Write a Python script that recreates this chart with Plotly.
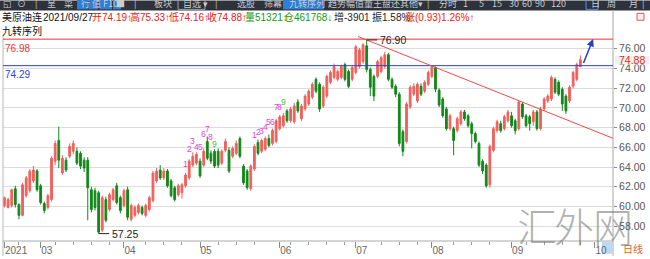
import plotly.graph_objects as go

# ---------------- data ----------------
opens = [60.1, 59.9, 60.1, 61.8, 60.2, 59.1, 61.1, 61.6, 62.6, 63.6,
         62.1, 60.3, 59.9, 60.7, 64.6, 66.7, 63.4, 64.7, 65.1, 65.6,
         65.6, 65.4, 64.7, 64.7, 61.7, 61.6, 61.4, 57.6, 60.7, 59.7,
         60.7, 62.1, 60.9, 60.1, 61.7, 58.7, 59.1, 59.4, 59.9, 59.1,
         59.7, 60.6, 62.6, 63.7, 62.9, 63.6, 62.6, 61.9, 61.2, 61.4,
         62.1, 62.9, 64.2, 64.4, 64.6, 64.2, 66.6, 65.4, 65.6, 65.6,
         64.4, 65.7, 65.7, 65.1, 65.4, 66.9, 64.1, 63.6, 61.8, 63.8,
         66.5, 65.6, 65.8, 66.9, 66.4, 66.6, 67.9, 68.2, 69.7, 68.7,
         68.6, 70.6, 68.9, 69.9, 70.4, 71.1, 72.9, 72.4, 70.2, 71.2,
         72.6, 73.1, 72.9, 73.1, 74.4, 73.7, 72.9, 73.6, 74.2, 74.7,
         76.3, 73.9, 73.2, 73.2, 73.7, 74.2, 75.4, 72.9, 72.2, 71.4,
         67.6, 66.6, 70.1, 71.4, 70.7, 72.2, 71.7, 72.4, 73.2, 74.1,
         71.8, 70.9, 69.9, 67.9, 67.9, 67.7, 68.4, 69.6, 69.2, 68.4,
         67.4, 66.4, 64.6, 64.2, 62.2, 65.7, 67.7, 68.4, 67.9, 68.7,
         69.2, 68.7, 67.9, 70.4, 69.2, 69.1, 68.6, 69.6, 67.9, 69.9,
         70.7, 70.9, 72.9, 72.6, 71.9, 71.2, 70.7, 72.2, 72.9, 74.19]
highs = [61.0, 60.9, 61.8, 62.1, 60.3, 62.4, 63.1, 63.8, 64.1, 63.8,
         62.3, 60.5, 61.3, 65.1, 66.7, 68.1, 65.2, 65.0, 66.4, 66.7,
         66.0, 65.6, 65.0, 65.0, 62.0, 61.9, 61.6, 61.1, 61.0, 61.4,
         61.9, 62.4, 61.1, 61.8, 62.0, 60.3, 60.1, 60.3, 60.1, 60.3,
         61.1, 63.6, 63.9, 64.2, 63.9, 63.8, 62.8, 62.1, 62.3, 62.4,
         63.4, 64.8, 65.5, 65.5, 64.9, 65.9, 67.1, 65.7, 65.8, 65.9,
         65.8, 66.9, 66.0, 66.1, 66.7, 67.1, 64.3, 63.8, 64.3, 66.3,
         66.8, 66.9, 67.1, 67.3, 67.9, 68.9, 69.3, 69.5, 69.9, 70.1,
         70.5, 70.9, 70.4, 71.4, 71.9, 72.6, 73.1, 72.6, 72.3, 73.4,
         73.8, 74.5, 73.9, 74.4, 74.6, 73.9, 74.3, 76.4, 76.1, 76.6,
         76.9, 74.1, 73.4, 74.9, 75.3, 75.7, 75.6, 73.1, 72.4, 71.6,
         67.8, 70.6, 72.3, 72.5, 72.6, 72.5, 72.8, 73.8, 74.3, 74.2,
         72.0, 71.1, 70.1, 69.4, 68.1, 69.1, 69.8, 69.8, 69.4, 68.6,
         67.6, 66.6, 64.8, 64.4, 66.3, 68.1, 68.8, 68.7, 69.3, 69.8,
         69.6, 68.9, 70.7, 70.6, 69.4, 69.3, 69.8, 69.8, 70.1, 71.1,
         71.4, 73.3, 73.1, 72.8, 72.1, 71.4, 72.3, 73.8, 74.6, 75.33]
lows = [59.9, 59.8, 59.9, 59.9, 58.7, 59.0, 60.9, 61.4, 62.4, 61.5,
        60.2, 59.3, 59.7, 60.5, 64.2, 63.9, 63.2, 63.5, 64.9, 65.3,
        64.2, 63.8, 63.5, 58.6, 59.4, 59.6, 57.25, 57.4, 58.4, 59.5,
        60.5, 60.2, 59.3, 59.9, 58.6, 58.5, 58.9, 59.2, 59.1, 58.9,
        59.5, 60.4, 62.4, 62.7, 62.7, 61.9, 60.9, 60.5, 61.0, 60.8,
        61.9, 62.7, 64.0, 64.2, 62.9, 64.0, 64.7, 64.3, 63.9, 63.9,
        64.2, 65.5, 63.4, 64.9, 65.2, 64.9, 62.2, 61.7, 61.6, 63.6,
        65.2, 65.4, 65.6, 66.0, 66.2, 66.4, 67.7, 68.0, 68.5, 68.5,
        68.4, 69.5, 68.7, 69.7, 70.2, 70.9, 71.5, 69.6, 70.0, 71.0,
        72.4, 72.9, 72.7, 72.9, 72.7, 72.0, 72.7, 73.4, 74.0, 74.5,
        73.6, 71.2, 70.7, 73.0, 73.5, 74.0, 72.7, 71.9, 71.1, 66.1,
        65.1, 66.4, 69.9, 71.2, 70.5, 71.2, 71.5, 72.2, 73.0, 71.6,
        70.1, 69.0, 67.7, 67.7, 65.2, 67.5, 68.2, 68.7, 68.0, 65.9,
        66.4, 64.0, 63.3, 61.9, 61.9, 65.5, 67.5, 67.5, 67.7, 68.5,
        68.0, 67.3, 67.7, 68.9, 68.0, 67.7, 68.2, 67.7, 67.7, 69.7,
        70.5, 70.7, 71.4, 71.2, 69.7, 69.4, 70.5, 72.0, 72.7, 74.16]
closes = [60.9, 60.7, 61.7, 60.2, 59.1, 62.2, 62.9, 63.6, 63.7, 61.7,
          60.4, 59.6, 61.1, 64.9, 66.4, 64.7, 64.9, 63.7, 66.1, 66.4,
          64.4, 64.1, 63.9, 61.9, 59.7, 59.9, 57.4, 60.9, 58.6, 61.2,
          61.7, 60.4, 59.6, 61.6, 58.9, 60.1, 59.9, 60.1, 59.3, 60.1,
          60.9, 63.4, 63.6, 62.9, 63.6, 62.1, 61.1, 60.7, 62.1, 62.2,
          63.2, 64.6, 65.1, 65.3, 63.1, 65.6, 64.9, 64.6, 64.1, 64.2,
          65.6, 66.6, 63.6, 65.9, 66.4, 65.1, 62.4, 61.9, 64.1, 66.1,
          65.4, 66.7, 66.9, 66.2, 67.7, 68.7, 69.1, 69.2, 68.7, 69.9,
          70.2, 69.7, 70.2, 71.2, 71.7, 72.4, 71.7, 69.9, 72.1, 73.2,
          73.6, 74.2, 73.7, 74.2, 72.9, 72.2, 74.1, 76.2, 75.9, 76.4,
          73.9, 72.1, 71.2, 74.7, 75.1, 75.4, 72.9, 72.1, 71.4, 66.4,
          65.6, 70.4, 72.1, 72.2, 72.4, 71.4, 72.6, 73.6, 74.2, 71.9,
          70.3, 69.2, 67.9, 69.2, 66.7, 68.9, 69.6, 68.9, 68.2, 67.4,
          66.6, 64.2, 63.6, 62.1, 66.1, 67.9, 68.6, 67.7, 69.1, 69.6,
          68.2, 67.7, 70.6, 69.1, 68.2, 68.4, 69.6, 67.9, 69.9, 70.9,
          71.2, 73.1, 71.6, 71.4, 70.4, 69.7, 72.1, 73.6, 74.4, 74.88]

month_ticks = [0, 10, 33, 54, 76, 97, 118, 140, 163]
month_labels = ["2021", "03", "04", "05", "06", "07", "08", "09", "10"]
price_ticks = [58, 60, 62, 64, 66, 68, 70, 72, 74, 76]

hline_values = [76.98, 74.29]
hline_colors = ["#e8343a", "#2a3fd8"]

trend_x = [97.6, 168.0]
trend_y = [77.25, 66.92]

seq1_idx = [50, 51, 52, 53, 54, 55, 56, 57, 58]
seq1_y = [64.33, 65.8, 66.63, 66.03, 66.03, 67.33, 67.87, 67.07, 66.3]
seq2_idx = [69, 70, 71, 72, 73, 74, 75, 76, 77]
seq2_y = [67.23, 67.57, 67.67, 68.07, 68.57, 68.57, 70.07, 70.13, 70.57]
seq_text = ["1", "2", "3", "4", "5", "6", "7", "8", "9"]

arrow_from = (159.7, 74.4)
arrow_to = (162.5, 77.0)

info_items = [
    (0, "美原油连", "#111"), (41, "2021/09/27", "#111"),
    (90, "开74.19↑", "#e82020"), (128, "高75.33↑", "#e82020"),
    (167, "低74.16↑", "#e82020"), (205, "收74.88↑", "#e82020"),
    (243, "量51321↓", "#129a12"), (282, "仓461768↓", "#129a12"),
    (332, "增-3901", "#222"), (370, "振1.58%", "#222"),
    (403, "涨(0.93)1.26%↑", "#e82020"),
]
toolbar_items = [
    (1, "◱"), (15, "⊙"), (33, "|"), (45, "呈"), (62, "菜"), (79, "行"), (90, "值"),
    (101, "F10"), (114, "■"), (132, "|"), (152, "板块"), (181, "自选 ▾"), (213, "|"),
    (235, "选股"), (262, "筛幕"), (287, "九转序列"), (326, "趋势幅值"), (362, "量王盘还"),
    (398, "其他"), (416, "▾"), (425, "|"), (437, "分时"), (461, "1"), (477, "5"),
    (490, "15"), (507, "30"), (520, "60"), (533, "90"), (549, "120"), (589, "日"),
    (605, "周"), (627, "月"), (640, "|"),
]
toolbar_buttons = [(77, 88), (88.5, 98), (99.5, 112), (113, 121), (283, 324)]

# ---------------- geometry helpers ----------------
W, H = 650, 259
L, R, T, B = 3, 613, 36, 244


def px(x):
    return (x - L) / (R - L)


def py(y):
    return (B - y) / (B - T)


FONT = "Liberation Sans, Noto Sans CJK SC, sans-serif"
CJK = "Noto Sans CJK SC, sans-serif"

x_idx = list(range(len(opens)))

fig = go.Figure()
fig.add_trace(go.Candlestick(
    x=x_idx, open=opens, high=highs, low=lows, close=closes,
    increasing=dict(line=dict(color="#f0615c", width=1), fillcolor="#f0615c"),
    decreasing=dict(line=dict(color="#12881a", width=1), fillcolor="#12881a"),
    whiskerwidth=0, hoverinfo="skip", showlegend=False,
))

shapes = []
annotations = []

# toolbar
shapes.append(dict(type="rect", xref="paper", yref="paper", x0=px(0), x1=px(650),
                   y0=py(10), y1=py(0), fillcolor="#2e323b", line=dict(width=0), layer="above"))
for a, b in toolbar_buttons:
    shapes.append(dict(type="rect", xref="paper", yref="paper", x0=px(a), x1=px(b),
                       y0=py(9), y1=py(-2), fillcolor="#2c7fd6", line=dict(width=0), layer="above"))
shapes.append(dict(type="rect", xref="paper", yref="paper", x0=px(178), x1=px(205),
                   y0=py(9), y1=py(-2), line=dict(color="#9aa4b0", width=1), layer="above"))
shapes.append(dict(type="rect", xref="paper", yref="paper", x0=px(586), x1=px(598),
                   y0=py(9), y1=py(-2), line=dict(color="#4d8fe0", width=1), layer="above"))
for x, t in toolbar_items:
    annotations.append(dict(xref="paper", yref="paper", x=px(x), y=py(3), text=t,
                            showarrow=False, xanchor="left", yanchor="middle",
                            font=dict(family=CJK, size=9, color="#c9ccd2")))

# info row
for x, t, c in info_items:
    annotations.append(dict(xref="paper", yref="paper", x=px(x), y=py(17), text=t,
                            showarrow=False, xanchor="left", yanchor="middle",
                            font=dict(family=FONT, size=10, color=c)))
annotations.append(dict(xref="paper", yref="paper", x=px(0), y=py(30), text="九转序列",
                        showarrow=False, xanchor="left", yanchor="middle",
                        font=dict(family=CJK, size=10, color="#111")))

# top-right small square
shapes.append(dict(type="rect", xref="paper", yref="paper", x0=px(637), x1=px(644),
                   y0=py(20), y1=py(13), line=dict(color="#e05050", width=1),
                   fillcolor="#fff4f0", layer="above"))

# frame lines
shapes.append(dict(type="line", xref="paper", yref="paper", x0=px(613), x1=px(613),
                   y0=py(10), y1=py(259), line=dict(color="#a8a8a8", width=1), layer="above"))
shapes.append(dict(type="line", xref="paper", yref="paper", x0=px(3), x1=px(3),
                   y0=py(36), y1=py(259), line=dict(color="#b8b8b8", width=1), layer="above"))
shapes.append(dict(type="line", xref="paper", yref="paper", x0=px(3), x1=px(613),
                   y0=py(244), y1=py(244), line=dict(color="#a8a8a8", width=1), layer="above"))

# horizontal reference lines + labels
for v, c in zip(hline_values, hline_colors):
    shapes.append(dict(type="line", xref="paper", yref="y", x0=0, x1=1, y0=v, y1=v,
                       line=dict(color=c, width=1), layer="above"))
    annotations.append(dict(xref="paper", yref="y", x=0, y=v, yshift=-1.5, text=f"{v:.2f}",
                            showarrow=False, xanchor="left", yanchor="top",
                            font=dict(family=FONT, size=10, color=c)))

# trend line
shapes.append(dict(type="line", xref="x", yref="y", x0=trend_x[0], x1=trend_x[1],
                   y0=trend_y[0], y1=trend_y[1], line=dict(color="#ef4a4a", width=1), layer="above"))

# max / min markers
i_max = max(range(len(highs)), key=lambda i: highs[i])
i_min = min(range(len(lows)), key=lambda i: lows[i])
for i, v in ((i_max, highs[i_max]), (i_min, lows[i_min])):
    shapes.append(dict(type="line", xref="x", yref="y", x0=i, x1=i + 2.9, y0=v, y1=v,
                       line=dict(color="#222", width=1), layer="above"))
    annotations.append(dict(xref="x", yref="y", x=i + 3.2, y=v, text=f"{v:.2f}",
                            showarrow=False, xanchor="left", yanchor="middle",
                            font=dict(family=FONT, size=10.5, color="#222")))

# nine-turn sequence labels
for idxs, ys in ((seq1_idx, seq1_y), (seq2_idx, seq2_y)):
    for k, (i, v) in enumerate(zip(idxs, ys)):
        annotations.append(dict(xref="x", yref="y", x=i, y=v, text=seq_text[k],
                                showarrow=False, xanchor="center", yanchor="middle",
                                font=dict(family=FONT, size=8.5,
                                          color="#3cc43c" if k == 8 else "#e444e4")))

# blue arrow
annotations.append(dict(xref="x", yref="y", axref="x", ayref="y",
                        x=arrow_to[0], y=arrow_to[1], ax=arrow_from[0], ay=arrow_from[1],
                        text="", showarrow=True, arrowhead=2, arrowsize=1, arrowwidth=1.5,
                        arrowcolor="#2240c8"))

# last price tag on the right axis
shapes.append(dict(type="rect", xref="paper", yref="paper", x0=px(615), x1=px(649),
                   y0=py(65), y1=py(56), fillcolor="#edf3ec", line=dict(width=0), layer="above"))
annotations.append(dict(xref="paper", yref="y", x=px(617), y=closes[-1],
                        text=f"{closes[-1]:.2f}", showarrow=False, xanchor="left",
                        yanchor="middle", font=dict(family=FONT, size=10.5, color="#e82828")))

# bottom-right widgets
shapes.append(dict(type="rect", xref="paper", yref="paper", x0=px(602), x1=px(612),
                   y0=py(257), y1=py(245), fillcolor="#b9d9f7", line=dict(width=0), layer="below"))
annotations.append(dict(xref="paper", yref="paper", x=px(621), y=py(251.5), text="日线",
                        showarrow=False, xanchor="left", yanchor="middle",
                        font=dict(family=CJK, size=10, color="#e0602a")))

# watermark
for x, ch in ((537, "汇"), (574, "外"), (613, "网")):
    annotations.append(dict(xref="paper", yref="paper", x=px(x), y=py(228), text=ch,
                            showarrow=False, xanchor="center", yanchor="middle",
                            font=dict(family=CJK, size=40, color="rgba(110,110,110,0.55)",
                                      weight=300)))

minor_vals = [v for v in range(4, 168, 5) if all(abs(v - m) > 2 for m in month_ticks)]

fig.update_layout(
    width=W, height=H,
    margin=dict(l=L, r=W - R, t=T, b=H - B),
    paper_bgcolor="white", plot_bgcolor="white",
    showlegend=False,
    shapes=shapes, annotations=annotations,
    xaxis=dict(
        range=[-0.4, 168.0], showgrid=False, zeroline=False, showline=False,
        rangeslider=dict(visible=False),
        tickmode="array", tickvals=month_ticks, ticktext=month_labels,
        ticks="outside", ticklen=6, tickcolor="#8a8a8a", tickwidth=1,
        ticklabelposition="outside right",
        tickfont=dict(family=FONT, size=10, color="#666"),
        minor=dict(tickmode="array", tickvals=minor_vals, ticks="outside", ticklen=3,
                   tickcolor="#9a9a9a", showgrid=False),
        fixedrange=True,
    ),
    yaxis=dict(
        side="right", range=[56.5, 77.3], tickmode="array", tickvals=price_ticks,
        ticktext=[f"{v:.2f}" for v in price_ticks],
        showgrid=True, gridcolor="#dcdcdc", gridwidth=1, zeroline=False, showline=False,
        ticks="outside", ticklen=3, tickcolor="#8a8a8a",
        tickfont=dict(family=FONT, size=10.5, color="#555"),
        fixedrange=True,
    ),
)

fig.write_html("out.html")
